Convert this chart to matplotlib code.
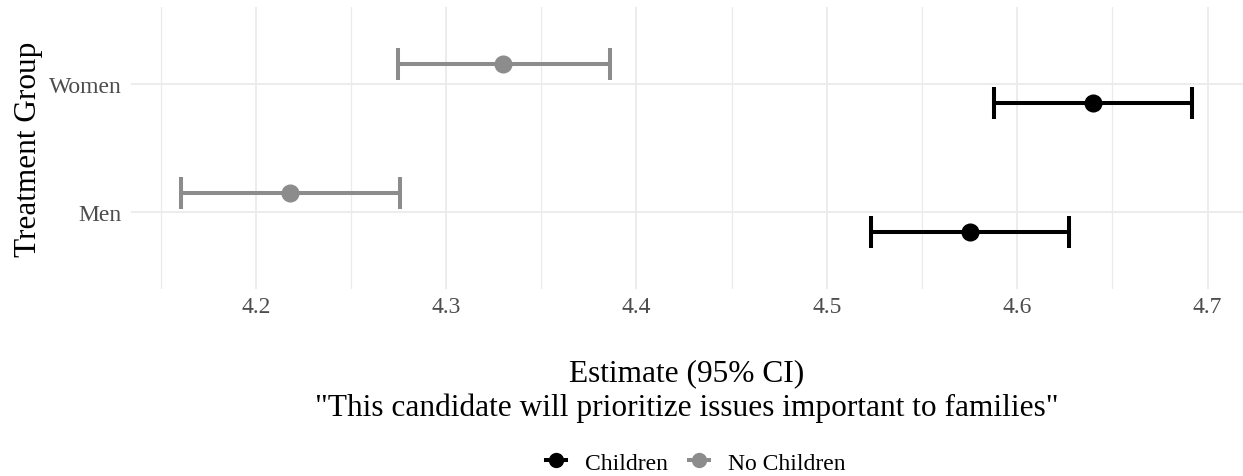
import matplotlib
matplotlib.use("Agg")
import matplotlib.pyplot as plt
from matplotlib.lines import Line2D
from matplotlib.ticker import MultipleLocator

plt.rcParams['font.family'] = ['Liberation Serif', 'DejaVu Serif']

# data
groups = ["Men", "Women"]
children_est = [4.575, 4.640]
children_lo = [4.523, 4.588]
children_hi = [4.627, 4.692]
nokids_est = [4.218, 4.330]
nokids_lo = [4.161, 4.275]
nokids_hi = [4.276, 4.386]

col_kids = "#000000"
col_nokids = "#8c8c8c"
dodge = 0.152

W, H = 1243, 477
fig = plt.figure(figsize=(W / 100, H / 100), dpi=100)
ax = fig.add_axes([131 / W, (H - 290) / H, (W - 131) / W, 282 / H])

ypos = list(range(1, len(groups) + 1))


def draw_series(est, lo, hi, shift, color):
    ys = [y + shift for y in ypos]
    xerr = [[e - l for e, l in zip(est, lo)], [h - e for e, h in zip(est, hi)]]
    ax.errorbar(est, ys, xerr=xerr, fmt='none', ecolor=color, elinewidth=2.9,
                capsize=11.5, capthick=2.9, zorder=3)
    ax.plot(est, ys, 'o', color=color, ms=12, zorder=4)


draw_series(children_est, children_lo, children_hi, -dodge, col_kids)
draw_series(nokids_est, nokids_lo, nokids_hi, dodge, col_nokids)

ax.set_xlim(4.1345, 4.7186)
ax.set_ylim(0.4, 2.6)
ax.xaxis.set_major_locator(MultipleLocator(0.1))
ax.xaxis.set_minor_locator(MultipleLocator(0.05))
ax.set_yticks(ypos)
ax.set_yticklabels(groups)

ax.grid(which='major', color='#ebebeb', lw=1.3, zorder=0)
ax.grid(which='minor', axis='x', color='#ebebeb', lw=0.9, zorder=0)
ax.set_axisbelow(True)
for s in ax.spines.values():
    s.set_visible(False)
ax.tick_params(which='both', length=0)
ax.tick_params(axis='x', labelsize=17, labelcolor='#4d4d4d', pad=5)
ax.tick_params(axis='y', labelsize=17, labelcolor='#4d4d4d', pad=7)

ax.set_ylabel("Treatment Group", fontsize=22.5, labelpad=4)
ax.set_xlabel('Estimate (95% CI)\n"This candidate will prioritize issues important to families"',
              fontsize=22.6, linespacing=1.2, labelpad=30)

handles = [Line2D([0], [0], color=col_kids, lw=2.9, marker='o', ms=10),
           Line2D([0], [0], color=col_nokids, lw=2.9, marker='o', ms=10)]
fig.legend(handles, ["Children", "No Children"], loc='center',
           bbox_to_anchor=(696 / W, 1 - 464 / H), ncol=2, frameon=False,
           fontsize=17, handlelength=0.85, handletextpad=0.8, columnspacing=0.9)

fig.savefig("out.png", dpi=100)
